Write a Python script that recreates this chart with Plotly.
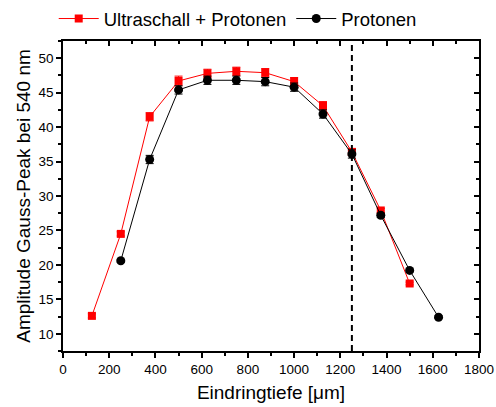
import plotly.graph_objects as go

# Penetration depth in micrometres
depth_us = [125, 250, 375, 500, 625, 750, 875, 1000, 1125, 1250, 1375, 1500]
amp_us = [12.6, 24.5, 41.5, 46.7, 47.8, 48.1, 47.9, 46.6, 43.1, 36.4, 27.9, 17.3]
err_us = [0.3, 0.3, 0.6, 0.7, 0.6, 0.6, 0.6, 0.6, 0.6, 0.5, 0.3, 0.2]

depth_p = [250, 375, 500, 625, 750, 875, 1000, 1125, 1250, 1375, 1500, 1625]
amp_p = [20.6, 35.3, 45.4, 46.8, 46.8, 46.6, 45.8, 41.9, 36.1, 27.2, 19.2, 12.4]
err_p = [0.2, 0.6, 0.6, 0.6, 0.6, 0.6, 0.6, 0.6, 0.6, 0.3, 0.2, 0.2]

marker_depth = 1250

x_ticks = list(range(0, 1801, 200))
y_ticks = list(range(10, 51, 5))

font = "Liberation Sans, Arial, sans-serif"

fig = go.Figure()
fig.add_trace(go.Scatter(
    x=depth_us, y=amp_us, name="Ultraschall + Protonen", mode="lines+markers",
    line=dict(color="#ff0000", width=1),
    marker=dict(symbol="square", size=8, color="#ff0000"),
    error_y=dict(type="data", array=err_us, color="#ff0000", thickness=1, width=4),
))
fig.add_trace(go.Scatter(
    x=depth_p, y=amp_p, name="Protonen", mode="lines+markers",
    line=dict(color="#000000", width=1),
    marker=dict(symbol="circle", size=9, color="#000000"),
    error_y=dict(type="data", array=err_p, color="#000000", thickness=1, width=4),
))

# Dashed vertical reference line
fig.add_shape(type="line", xref="x", yref="paper", x0=marker_depth, x1=marker_depth,
              y0=0, y1=1, line=dict(color="black", width=2, dash="6px,4px"))

axis_common = dict(showgrid=False, zeroline=False, showline=True, linecolor="black",
                   linewidth=1.5, tickcolor="black", tickwidth=1.5,
                   tickfont=dict(family=font, size=13.5, color="black"))

fig.update_layout(
    width=496, height=407,
    margin=dict(l=63, r=17, t=41, b=56, autoexpand=False),
    paper_bgcolor="white", plot_bgcolor="white",
    font=dict(family=font, color="black"),
    showlegend=True,
    legend=dict(orientation="h", x=0.42, xanchor="center", y=1.0, yref="container",
                yanchor="top", font=dict(family=font, size=18.5, color="black"),
                bgcolor="rgba(0,0,0,0)", itemwidth=40, tracegroupgap=0),
    xaxis=dict(range=[0, 1800], tickvals=x_ticks, ticks="outside", ticklen=5,
               minor=dict(dtick=100, ticks="outside", ticklen=3, tickcolor="black", tickwidth=1.5),
               title=dict(text="Eindringtiefe [μm]", font=dict(family=font, size=19), standoff=10),
               **axis_common),
    yaxis=dict(range=[7.5, 52.5], tickvals=y_ticks, ticks="outside", ticklen=5,
               minor=dict(dtick=2.5, ticks="outside", ticklen=3, tickcolor="black", tickwidth=1.5),
               title=dict(text="Amplitude Gauss-Peak bei 540 nm", font=dict(family=font, size=19), standoff=3),
               **axis_common),
    xaxis2=dict(range=[0, 1800], overlaying="x", side="top", tickvals=x_ticks, ticks="inside",
                ticklen=5, showticklabels=False,
                minor=dict(dtick=100, ticks="inside", ticklen=3, tickcolor="black", tickwidth=1.5),
                **axis_common),
    yaxis2=dict(range=[7.5, 52.5], overlaying="y", side="right", tickvals=y_ticks, ticks="inside",
                ticklen=5, showticklabels=False,
                minor=dict(dtick=2.5, ticks="inside", ticklen=3, tickcolor="black", tickwidth=1.5),
                **axis_common),
)

# invisible trace so the mirrored axes are drawn
fig.add_trace(go.Scatter(x=[None], y=[None], xaxis="x2", yaxis="y2", showlegend=False,
                         hoverinfo="skip"))

fig.write_html("out.html")
